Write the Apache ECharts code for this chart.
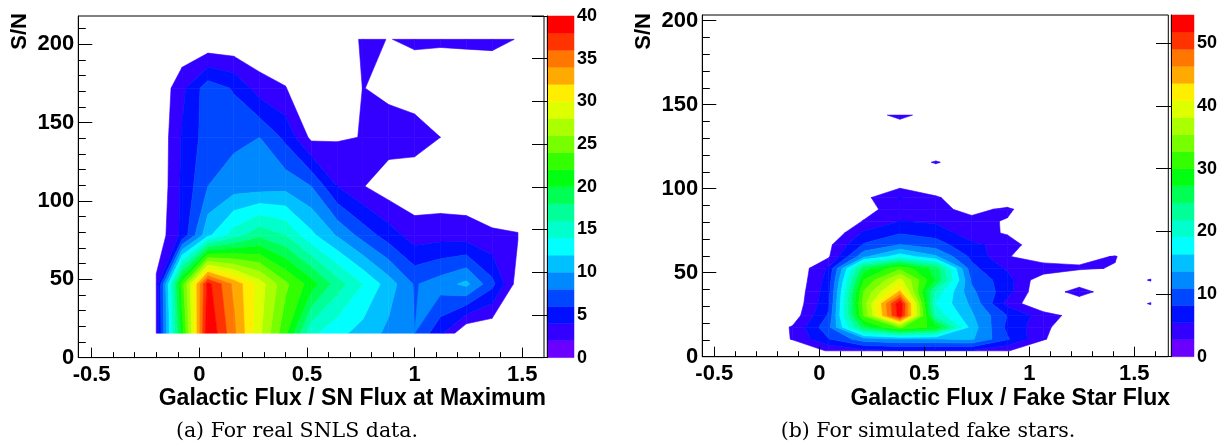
<!DOCTYPE html>
<html><head><meta charset="utf-8">
<script src="https://cdn.jsdelivr.net/npm/echarts@6/dist/echarts.min.js"></script>
<style>html,body{margin:0;padding:0;background:#fff}#c{width:1220px;height:448px}</style>
</head><body><div id="c"></div><script>
// ---------- palette (20 contour bands) ----------
const PALETTE = ['#6a00ff','#3300ff','#0010ff','#0048ff','#0088ff','#00c0ff','#00ffff','#00ffcc','#00ff99','#00ff55',
                 '#00ff10','#33ff00','#77ff00','#aaff00','#ddff00','#ffee00','#ffaa00','#ff7700','#ff3300','#ff0000'];

// ---------- (a) real SNLS data ----------
const xL = [-0.2,-0.08,0.04,0.16,0.28,0.40,0.52,0.64,0.76,0.88,1.00,1.12,1.24,1.36,1.48];
const yL = [15.6,46.9,78.1,109.4,140.6,171.9,203.1];
const zL = [
  [2.6, 21, 40, 34.5, 28.5, 22.5, 14.5, 12.6, 11.2, 9.5, 8.0, 4.5, 0, 0, 0],
  [2.4, 23, 38.7, 33.5, 29, 24.5, 21, 17, 14, 11, 7.8, 9, 10.5, 6.6, 1.0],
  [0.5, 4.5, 11.5, 15, 17.5, 16, 12.5, 9.8, 7.2, 5, 3, 3.2, 3, 2.3, 2.1],
  [0, 4.4, 8, 9, 9, 9.3, 8, 4, 2.1, 0.8, 0.5, 0.5, 0.5, 0.3, 0.3],
  [0, 4.2, 7, 7.5, 8, 5.5, 1.5, 1.8, 2.05, 3, 3, 2.0, 0, 0, 0],
  [0, 3.5, 7.1, 5.8, 3, 2.1, 0, 0, 2.05, 1.5, 0.9, 0.5, 0, 0, 0],
  [0, 0, 0, 0, 0, 0, 0, 0, 2.4, 1.95, 2.3, 2.3, 2.5, 2.6, 1.9]
];
const zMaxL = 40;
const xMajorL = [-0.5, 0, 0.5, 1, 1.5];
const xMinorL = [-0.4,-0.3,-0.2,-0.1,0.1,0.2,0.3,0.4,0.6,0.7,0.8,0.9,1.1,1.2,1.3,1.4];
const yMajorL = [0, 50, 100, 150, 200];
const yMinorL = [10,20,30,40,60,70,80,90,110,120,130,140,160,170,180,190,210];
const barTicksL = [0,5,10,15,20,25,30,35,40];

// ---------- (b) simulated fake stars ----------
const xR = [-0.470,-0.299,-0.128,0.043,0.213,0.384,0.555,0.726,0.896,1.067,1.238,1.408,1.579];
const yR = [3.5,10.5,17.5,24.5,31.6,38.6,45.6,52.6,59.6,66.6,73.6,80.7,87.7,94.7,101.7,108.7,115.7,122.7,129.8,136.8,143.8];
const zR = [
  [0,0,0, 3.0, 4.5, 5.0, 5.0, 5.0, 2.9, 0,0,0,0],
  [0,0, 2.9, 8, 12.5, 13.5, 13.5, 14, 8.5, 3.0, 0,0,0],
  [0,0, 3.0, 10, 26, 33, 29, 15, 7.5, 3.5, 0,0,0],
  [0,0, 1.0, 8.5, 33, 53.5, 21, 14, 8.1, 4.0, 1.5, 0,0],
  [0,0, 0.5, 7.5, 34, 54, 19, 13, 4.5, 0, 0, 0, 3.0],
  [0,0, 0.3, 7, 33, 44, 21, 11.5, 6.5, 0, 4.5, 0, 0],
  [0,0, 0, 6.5, 30, 39, 27, 10.5, 6.5, 0.6, 0, 0, 3.0],
  [0,0, 0, 5.8, 26, 32, 26, 9, 5.0, 4.8, 3.1, 2.56, 0],
  [0,0, 0, 2.3, 13, 18, 14, 7.5, 3.0, 0.3, 1.8, 2.9, 0],
  [0,0, 0, 2.0, 8.5, 11, 9.5, 6, 4.5, 0,0,0,0],
  [0,0,0, 0, 6, 8, 7, 4.0, 2.4, 0,0,0,0],
  [0,0,0,0, 2.9, 5.5, 5.0, 3.5, 2.5, 0,0,0,0],
  [0,0,0,0, 1.5, 4.5, 3.5, 1.9, 3.3, 0,0,0,0],
  [0,0,0,0, 2.0, 5.6, 3.2, 0, 0, 0,0,0,0],
  [0,0,0,0, 0, 2.0, 0,0,0,0,0,0,0],
  [0,0,0,0,0,0,0,0,0,0,0,0,0],
  [0,0,0,0,0,0, 3.1, 0,0,0,0,0,0],
  [0,0,0,0,0,0,0,0,0,0,0,0,0],
  [0,0,0,0,0,0,0,0,0,0,0,0,0],
  [0,0,0,0,0,0,0,0,0,0,0,0,0],
  [0,0,0,0,0, 4.2, 0,0,0,0,0,0,0]
];
const zMaxR = 54.5;
const xMajorR = [-0.5, 0, 0.5, 1, 1.5];
const xMinorR = [-0.4,-0.3,-0.2,-0.1,0.1,0.2,0.3,0.4,0.6,0.7,0.8,0.9,1.1,1.2,1.3,1.4,1.6];
const yMajorR = [0, 50, 100, 150, 200];
const yMinorR = [10,20,30,40,60,70,80,90,110,120,130,140,160,170,180,190];
const barTicksR = [0,10,20,30,40,50];

// ---------- contour helpers ----------
function clip(poly, t, keepAbove) {
  const out = [];
  const n = poly.length;
  for (let i = 0; i < n; i++) {
    const a = poly[i], b = poly[(i + 1) % n];
    const ina = keepAbove ? a[2] >= t : a[2] <= t;
    const inb = keepAbove ? b[2] >= t : b[2] <= t;
    if (ina) out.push(a);
    if (ina !== inb) {
      const f = (t - a[2]) / (b[2] - a[2]);
      out.push([a[0] + f * (b[0] - a[0]), a[1] + f * (b[1] - a[1]), t]);
    }
  }
  return out;
}
function contourRender(xs, ys, zs, zmax) {
  const nb = PALETTE.length, step = zmax / nb;
  return function (params, api) {
    const children = [];
    for (let b = 1; b < nb; b++) {
      const lo = b * step, hi = (b === nb - 1) ? Infinity : (b + 1) * step;
      for (let j = 0; j < ys.length - 1; j++) {
        for (let i = 0; i < xs.length - 1; i++) {
          const q = [[xs[i], ys[j], zs[j][i]], [xs[i + 1], ys[j], zs[j][i + 1]],
                     [xs[i + 1], ys[j + 1], zs[j + 1][i + 1]], [xs[i], ys[j + 1], zs[j + 1][i]]];
          const vs = q.map(p => p[2]);
          if (Math.max.apply(null, vs) < lo || Math.min.apply(null, vs) > hi) continue;
          let p = clip(q, lo, true);
          if (p.length < 3) continue;
          if (hi !== Infinity) { p = clip(p, hi, false); if (p.length < 3) continue; }
          children.push({
            type: 'polygon', silent: true,
            shape: { points: p.map(v => api.coord([v[0], v[1]])) },
            style: { fill: PALETTE[b], stroke: PALETTE[b], lineWidth: 0.6 }
          });
        }
      }
    }
    return { type: 'group', children };
  };
}
function barRender(zmax) {
  const nb = PALETTE.length, step = zmax / nb;
  return function (params, api) {
    const children = [];
    for (let b = 0; b < nb; b++) {
      const p0 = api.coord([0, b * step]), p1 = api.coord([1, (b + 1) * step]);
      children.push({ type: 'rect', silent: true,
        shape: { x: p0[0], y: p1[1], width: p1[0] - p0[0], height: p0[1] - p1[1] },
        style: { fill: PALETTE[b], stroke: PALETTE[b], lineWidth: 0.5 } });
    }
    return { type: 'group', children };
  };
}

// ---------- axes ----------
const FONT = '"Liberation Sans", Arial, sans-serif';
const lab = (vals, margin, size) => ({ customValues: vals, color: '#000', fontFamily: FONT, fontWeight: 'bold', fontSize: size, margin });
function mainX(grid, min, max, majors) {
  return { type: 'value', gridIndex: grid, min, max, position: 'bottom', z: 10,
    axisLine: { show: true, onZero: false, lineStyle: { color: '#000', width: 1 } },
    axisTick: { show: true, inside: true, length: 10, customValues: majors, lineStyle: { color: '#000', width: 1 } },
    axisLabel: lab(majors, 6, 22), splitLine: { show: false } };
}
function minorX(grid, min, max, minors) {
  return { type: 'value', gridIndex: grid, min, max, position: 'bottom', z: 10,
    axisLine: { show: false, onZero: false },
    axisTick: { show: true, inside: true, length: 5.5, customValues: minors, lineStyle: { color: '#000', width: 1 } },
    axisLabel: { show: false }, splitLine: { show: false } };
}
function mainY(grid, min, max, majors) {
  return { type: 'value', gridIndex: grid, min, max, position: 'left', z: 10,
    axisLine: { show: true, onZero: false, lineStyle: { color: '#000', width: 1 } },
    axisTick: { show: true, inside: true, length: 14, customValues: majors, lineStyle: { color: '#000', width: 1 } },
    axisLabel: lab(majors, 4, 22), splitLine: { show: false } };
}
function minorY(grid, min, max, minors) {
  return { type: 'value', gridIndex: grid, min, max, position: 'left', z: 10,
    axisLine: { show: false, onZero: false },
    axisTick: { show: true, inside: true, length: 7.5, customValues: minors, lineStyle: { color: '#000', width: 1 } },
    axisLabel: { show: false }, splitLine: { show: false } };
}
function barX(grid) { return { type: 'value', gridIndex: grid, min: 0, max: 1, show: false }; }
function barY(grid, max, ticks) {
  return { type: 'value', gridIndex: grid, min: 0, max, position: 'right', z: 10,
    axisLine: { show: true, lineStyle: { color: '#000', width: 1 } },
    axisTick: { show: true, inside: true, length: 15, customValues: ticks, lineStyle: { color: '#000', width: 1 } },
    axisLabel: lab(ticks, 3, 18), splitLine: { show: false } };
}

const chart = echarts.init(document.getElementById('c'), null, { renderer: 'canvas' });
chart.setOption({
  animation: false,
  backgroundColor: '#fff',
  grid: [
    { left: 78.3, top: 16, width: 465.7, height: 341.6, show: true, borderColor: '#000', borderWidth: 1, backgroundColor: 'transparent' },
    { left: 547, top: 16, width: 27, height: 341.6, show: false },
    { left: 702.3, top: 15, width: 466, height: 341.7, show: true, borderColor: '#000', borderWidth: 1, backgroundColor: 'transparent' },
    { left: 1171, top: 15, width: 28, height: 341.7, show: false }
  ],
  xAxis: [
    mainX(0, -0.562, 1.601, xMajorL), minorX(0, -0.562, 1.601, xMinorL), barX(1),
    mainX(2, -0.557, 1.662, xMajorR), minorX(2, -0.557, 1.662, xMinorR), barX(3)
  ],
  yAxis: [
    mainY(0, 0, 218, yMajorL), minorY(0, 0, 218, yMinorL), barY(1, zMaxL, barTicksL),
    mainY(2, 0, 203.4, yMajorR), minorY(2, 0, 203.4, yMinorR), barY(3, zMaxR, barTicksR)
  ],
  series: [
    { type: 'custom', xAxisIndex: 0, yAxisIndex: 0, clip: true, silent: true, data: [[xL[0], yL[0]]], renderItem: contourRender(xL, yL, zL, zMaxL) },
    { type: 'custom', xAxisIndex: 2, yAxisIndex: 2, silent: true, data: [[0, 0]], renderItem: barRender(zMaxL) },
    { type: 'custom', xAxisIndex: 3, yAxisIndex: 3, clip: true, silent: true, data: [[xR[0], yR[0]]], renderItem: contourRender(xR, yR, zR, zMaxR) },
    { type: 'custom', xAxisIndex: 5, yAxisIndex: 5, silent: true, data: [[0, 0]], renderItem: barRender(zMaxR) }
  ],
  graphic: [
    { type: 'text', x: 19.5, y: 13, rotation: Math.PI / 2, style: { text: 'S/N', font: 'bold 22px ' + FONT, fill: '#000', textAlign: 'right', textVerticalAlign: 'middle' } },
    { type: 'text', x: 643.5, y: 13, rotation: Math.PI / 2, style: { text: 'S/N', font: 'bold 22px ' + FONT, fill: '#000', textAlign: 'right', textVerticalAlign: 'middle' } },
    { type: 'text', x: 546, y: 399, style: { text: 'Galactic Flux / SN Flux at Maximum', font: 'bold 23px ' + FONT, fill: '#000', textAlign: 'right', textVerticalAlign: 'middle' } },
    { type: 'text', x: 1170, y: 399, style: { text: 'Galactic Flux / Fake Star Flux', font: 'bold 23px ' + FONT, fill: '#000', textAlign: 'right', textVerticalAlign: 'middle' } },
    { type: 'text', x: 297, y: 432, style: { text: '(a) For real SNLS data.', font: '20.5px "DejaVu Serif", serif', fill: '#000', textAlign: 'center', textVerticalAlign: 'middle' } },
    { type: 'text', x: 928, y: 432, style: { text: '(b) For simulated fake stars.', font: '20.5px "DejaVu Serif", serif', fill: '#000', textAlign: 'center', textVerticalAlign: 'middle' } }
  ]
});
</script></body></html>
